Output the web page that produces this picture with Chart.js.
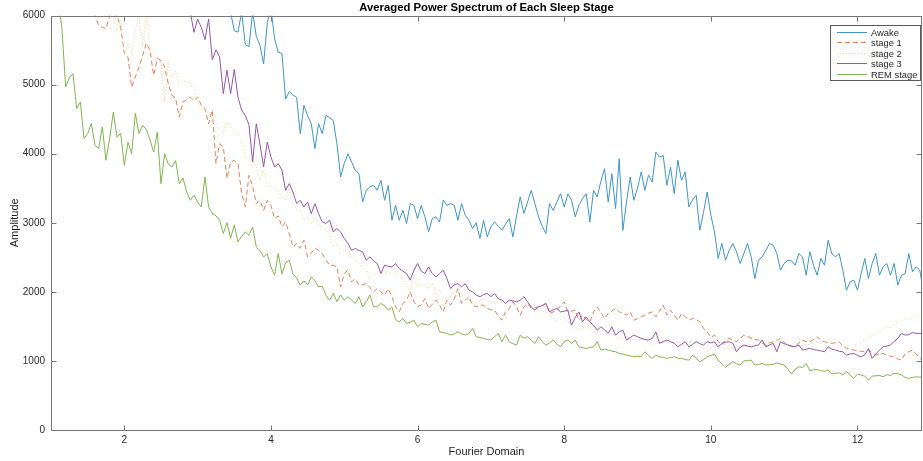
<!DOCTYPE html>
<html><head><meta charset="utf-8">
<script src="https://cdn.jsdelivr.net/npm/chart.js@4.4.0/dist/chart.umd.min.js"></script>
<style>html,body{margin:0;padding:0;background:#fff}</style>
</head><body>
<canvas id="c" width="923" height="461"></canvas>
<script>
const freq = [
 1.00,1.05,1.10,1.15,1.20,1.25,1.30,1.35,1.40,1.45,1.50,1.55,1.60,1.65,1.70,1.75,1.80,1.85,1.90,1.95,
 2.00,2.05,2.10,2.15,2.20,2.25,2.30,2.35,2.40,2.45,2.50,2.55,2.60,2.65,2.70,2.75,2.80,2.85,2.90,2.95,
 3.00,3.05,3.10,3.15,3.20,3.25,3.30,3.35,3.40,3.45,3.50,3.55,3.60,3.65,3.70,3.75,3.80,3.85,3.90,3.95,
 4.00,4.05,4.10,4.15,4.20,4.25,4.30,4.35,4.40,4.45,4.50,4.55,4.60,4.65,4.70,4.75,4.80,4.85,4.90,4.95,
 5.00,5.05,5.10,5.15,5.20,5.25,5.30,5.35,5.40,5.45,5.50,5.55,5.60,5.65,5.70,5.75,5.80,5.85,5.90,5.95,
 6.00,6.05,6.10,6.15,6.20,6.25,6.30,6.35,6.40,6.45,6.50,6.55,6.60,6.65,6.70,6.75,6.80,6.85,6.90,6.95,
 7.00,7.05,7.10,7.15,7.20,7.25,7.30,7.35,7.40,7.45,7.50,7.55,7.60,7.65,7.70,7.75,7.80,7.85,7.90,7.95,
 8.00,8.05,8.10,8.15,8.20,8.25,8.30,8.35,8.40,8.45,8.50,8.55,8.60,8.65,8.70,8.75,8.80,8.85,8.90,8.95,
 9.00,9.05,9.10,9.15,9.20,9.25,9.30,9.35,9.40,9.45,9.50,9.55,9.60,9.65,9.70,9.75,9.80,9.85,9.90,9.95,
 10.00,10.05,10.10,10.15,10.20,10.25,10.30,10.35,10.40,10.45,10.50,10.55,10.60,10.65,10.70,10.75,10.80,10.85,10.90,10.95,
 11.00,11.05,11.10,11.15,11.20,11.25,11.30,11.35,11.40,11.45,11.50,11.55,11.60,11.65,11.70,11.75,11.80,11.85,11.90,11.95,
 12.00,12.05,12.10,12.15,12.20,12.25,12.30,12.35,12.40,12.45,12.50,12.55,12.60,12.65,12.70,12.75,12.80,12.85,12.90,12.95
];
const awake = [
 null,null,null,null,null,null,null,null,null,null,null,null,null,null,null,null,null,null,null,null,
 null,null,null,null,null,null,null,null,null,null,null,null,null,null,null,null,null,null,null,null,
 null,null,null,null,null,null,null,null,6300,6050,5780,5760,6050,5580,5550,6050,5700,5570,5300,5900,
 6100,5660,5470,5450,4790,4900,4850,4815,4290,4700,4550,4435,4073,4435,4290,4555,4520,4480,4145,3663,
 3860,4000,3880,3760,3712,3300,3470,3520,3542,3470,3615,3325,3540,3037,3253,3037,3180,2990,3277,3253,
 3060,3253,3085,2868,3060,3085,3013,3326,3253,3277,3253,3037,3277,3110,3037,2916,3000,2772,3037,2796,
 2940,3013,2950,2892,2980,3060,2796,3100,3374,3133,3300,3470,3277,3085,2950,2844,3277,3180,3300,3420,
 3230,3420,3325,3085,3253,3350,3420,3013,3470,3374,3600,3784,3300,3712,3205,3928,2892,3300,3663,3325,
 3500,3735,3470,3690,3590,4024,3950,3975,3543,3807,3420,3904,3615,3735,3229,3330,3400,2892,3150,3446,
 3110,2868,2483,2700,2458,2600,2700,2580,2410,2555,2700,2506,2193,2458,2506,2600,2700,2675,2555,2313,
 2410,2458,2450,2386,2555,2506,2241,2580,2386,2241,2483,2386,2747,2550,2506,2555,2313,2024,2145,2169,
 2024,2265,2483,2193,2410,2555,2241,2362,2410,2241,2410,2097,2241,2265,2555,2290,2362,2313,2000,2100
];
const stage1 = [
 null,null,null,null,null,null,null,null,null,null,null,6150,6000,5856,5830,5810,5990,6050,6000,5830,
 5450,5400,4965,5110,5254,5424,5600,5500,5134,5380,5350,5254,5013,4845,4800,4530,4750,4780,4820,4770,
 4820,4700,4650,4434,4630,3856,4145,4100,3640,3880,3905,3856,3423,3230,3687,3530,3277,3325,3180,3325,
 3253,3060,3100,2940,3010,2844,2650,2700,2630,2747,2506,2560,2630,2600,2550,2460,2386,2386,2360,2072,
 2265,2313,2145,2190,2097,2100,2120,2060,2000,2047,2000,1952,2047,1930,1783,1710,1832,1880,2000,1856,
 1783,1808,1905,1760,1820,1880,1808,1710,1880,1808,1900,2048,1832,1880,1930,1808,1783,1808,1808,1760,
 1740,1735,1650,1590,1710,1760,1856,1783,1662,1783,1832,1760,1770,1783,1800,1832,1686,1710,1735,1800,
 1856,1710,1720,1735,1590,1663,1600,1566,1710,1783,1700,1614,1686,1720,1760,1710,1690,1663,1710,1590,
 1610,1638,1663,1690,1710,1638,1720,1808,1663,1735,1660,1590,1686,1640,1590,1614,1600,1566,1470,1422,
 1340,1374,1280,1230,1302,1330,1300,1278,1320,1374,1360,1326,1310,1302,1260,1230,1260,1278,1300,1326,
 1270,1230,1210,1205,1260,1302,1280,1278,1310,1350,1300,1278,1260,1254,1265,1278,1220,1181,1170,1157,
 1150,1140,1133,1157,1120,1085,1100,1109,1080,1070,1060,1030,1012,1100,1133,1157,1100,1036,1000,980
];
const stage2 = [
 null,null,null,null,null,null,null,null,null,null,null,null,null,null,null,null,null,6100,5783,5930,
 5424,5596,5424,5800,6000,5550,6000,5550,5450,5400,5300,4750,5340,5100,5200,5000,5040,5060,5010,4940,
 4730,4690,4640,4580,4508,4400,4340,4290,4460,4380,4315,4290,4193,3952,3930,3900,3807,3620,3760,3518,
 3530,3540,3420,3400,3325,3518,3277,3200,3181,3037,3085,2989,3085,2965,2940,2900,2844,2650,2700,2555,
 2603,2627,2507,2458,2400,2362,2313,2193,2241,2280,2313,2241,2270,2290,2241,2265,2169,2100,2000,2241,
 2072,2120,2080,2048,2120,1952,2024,1930,1856,1952,1980,2000,1977,1952,1880,1860,1832,1860,1905,1880,
 1856,1840,1832,1860,1880,1930,1910,1905,1820,1800,1790,1808,1770,1735,1720,1700,1686,1620,1566,1600,
 1638,1560,1518,1480,1446,1480,1518,1470,1422,1410,1390,1374,1385,1398,1360,1326,1340,1350,1330,1310,
 1302,1315,1326,1270,1229,1260,1302,1280,1260,1254,1265,1278,1250,1229,1260,1302,1250,1205,1181,1133,
 1180,1229,1205,1190,1181,1200,1175,1205,1230,1210,1230,1205,1181,1190,1200,1205,1190,1240,1230,1245,
 1254,1240,1230,1205,1200,1225,1230,1240,1280,1278,1270,1302,1300,1270,1254,1230,1215,1205,1230,1210,
 1260,1280,1302,1340,1370,1398,1420,1470,1490,1480,1530,1550,1590,1614,1600,1610,1638,1650,1663,1670
];
const stage3 = [
 null,null,null,null,null,null,null,null,null,null,null,null,null,null,null,null,null,null,null,null,
 null,null,null,null,null,null,null,null,null,null,null,null,null,null,null,null,null,6400,6050,5757,
 5950,5830,5650,5950,5360,5505,5400,4870,5210,4870,5220,4820,4630,4555,4420,3880,4434,4140,3810,4169,
 3950,3808,3856,3760,3470,3567,3446,3278,3325,3230,3300,3133,3277,3133,3013,2990,3037,2868,2916,2868,
 2772,2700,2603,2627,2600,2580,2458,2506,2450,2410,2265,2386,2370,2362,2410,2338,2300,2265,2169,2313,
 2410,2300,2265,2362,2265,2217,2265,2313,2193,2048,2100,2120,2072,2120,2024,2000,1952,1930,1960,1977,
 1930,1977,1900,1880,1832,1880,1870,1856,1880,1930,1856,1780,1735,1783,1800,1832,1710,1740,1760,1710,
 1720,1735,1518,1630,1710,1566,1638,1560,1518,1446,1494,1450,1398,1494,1374,1420,1446,1302,1340,1374,
 1350,1326,1310,1302,1326,1422,1254,1280,1302,1280,1254,1205,1240,1278,1205,1240,1278,1250,1229,1280,
 1260,1278,1200,1254,1270,1278,1254,1133,1200,1230,1215,1205,1220,1230,1302,1205,1230,1254,1133,1278,
 1250,1230,1215,1205,1230,1157,1170,1181,1165,1157,1145,1133,1205,1170,1157,1140,1133,1085,1100,1109,
 1080,1060,1090,1181,1036,1100,1157,1205,1215,1230,1280,1326,1398,1374,1380,1410,1400,1398,1400,1405
];
const remStage = [
 6800,6550,6250,5800,4965,5100,5160,4650,4750,4222,4290,4440,4120,4078,4386,3904,4222,4603,4241,4294,
 3832,4169,4000,4584,4294,4410,4350,4200,4024,4313,3567,4000,3850,3807,3900,3567,3650,3446,3326,3400,
 3300,3229,3663,3229,3137,3100,3037,2844,3000,2776,2970,2723,2800,2868,2820,2940,2650,2600,2506,2550,
 2361,2241,2555,2260,2420,2458,2260,2200,2097,2160,2097,2217,2160,2072,2080,1950,1880,1977,1860,1955,
 1880,1930,1880,1832,1930,1783,1860,1955,1783,1783,1832,1800,1735,1783,1600,1566,1614,1543,1560,1590,
 1494,1543,1530,1518,1566,1590,1422,1410,1398,1374,1390,1422,1390,1374,1398,1470,1350,1340,1325,1310,
 1302,1350,1398,1278,1374,1278,1250,1229,1374,1330,1350,1300,1254,1350,1280,1229,1260,1302,1240,1205,
 1280,1302,1254,1302,1205,1190,1181,1195,1205,1278,1157,1170,1157,1140,1133,1109,1100,1085,1070,1060,
 1070,1060,1133,1080,1036,1085,1060,1050,1036,1050,1060,1040,1036,1020,1012,1085,1040,988,1020,1060,
 1080,1099,1012,960,907,950,988,960,940,1000,1005,1012,940,950,964,940,945,950,970,955,
 940,880,810,880,915,907,964,860,870,875,860,850,868,810,820,828,800,850,790,750,
 810,795,780,723,780,785,790,770,800,790,820,815,800,760,747,760,770,765,770,760
];
const seriesNames = ['Awake','stage 1','stage 2','stage 3','REM stage'];
const xTicks = [2,4,6,8,10,12];
const yTicks = [0,1000,2000,3000,4000,5000,6000];

const FONT = "'Liberation Sans', Arial, Helvetica, sans-serif";
Chart.defaults.font.family = FONT;

const seriesValues = [awake, stage1, stage2, stage3, remStage];
const colors = ['rgb(62,150,200)','rgb(226,128,88)','rgb(238,214,160)','rgb(150,86,170)','rgb(128,182,78)'];
const dashes = [[], [5,3], [1.2,1.8], [], []];

const datasets = seriesValues.map((vals, i) => ({
  label: seriesNames[i],
  data: vals.map((v, j) => ({x: freq[j], y: v})),
  borderColor: colors[i],
  borderWidth: 1,
  borderDash: dashes[i],
  pointRadius: 0,
  tension: 0,
  fill: false,
  spanGaps: false,
  order: 4 - i
}));

const framePlugin = {
  id: 'frame',
  afterDatasetsDraw(chart) {
    const {ctx, chartArea: a, scales} = chart;
    ctx.save();
    ctx.strokeStyle = 'rgb(120,120,120)';
    ctx.lineWidth = 1;
    ctx.setLineDash([]);
    const L = Math.round(a.left) + 0.5, R = Math.round(a.right) - 0.5;
    const T = Math.round(a.top) + 0.5, B = Math.round(a.bottom) + 0.5;
    ctx.strokeRect(L, T, R - L, B - T);
    ctx.beginPath();
    const tl = 5;
    xTicks.forEach(v => {
      const px = Math.round(scales.x.getPixelForValue(v)) + 0.5;
      ctx.moveTo(px, B); ctx.lineTo(px, B - tl);
      ctx.moveTo(px, T); ctx.lineTo(px, T + tl);
    });
    yTicks.forEach(v => {
      const py = Math.round(scales.y.getPixelForValue(v)) + 0.5;
      ctx.moveTo(L, py); ctx.lineTo(L + tl, py);
      ctx.moveTo(R, py); ctx.lineTo(R - tl, py);
    });
    ctx.stroke();

    // legend box inside top-right
    const bx = 830.5, by = 25.5, bw = 90, bh = 55;
    ctx.fillStyle = '#fff';
    ctx.fillRect(bx, by, bw, bh);
    ctx.strokeStyle = 'rgb(90,90,90)';
    ctx.strokeRect(bx, by, bw, bh);
    ctx.font = '9.4px ' + FONT;
    ctx.textBaseline = 'middle';
    ctx.textAlign = 'left';
    chart.data.datasets.forEach((ds, i) => {
      const y = Math.round(32 + i * 10.4) + 0.5;
      ctx.strokeStyle = ds.borderColor;
      ctx.setLineDash(ds.borderDash);
      ctx.beginPath();
      ctx.moveTo(837, y); ctx.lineTo(867, y);
      ctx.stroke();
      ctx.fillStyle = 'rgb(40,40,40)';
      ctx.fillText(ds.label, 871, y + 0.5);
    });
    ctx.restore();
  }
};

new Chart(document.getElementById('c'), {
  type: 'line',
  data: { datasets },
  options: {
    responsive: false,
    animation: false,
    devicePixelRatio: 1,
    layout: { padding: { left: 0, right: 1, top: 0, bottom: 0 } },
    plugins: {
      legend: { display: false },
      tooltip: { enabled: false },
      title: {
        display: true,
        fullSize: false,
        text: 'Averaged Power Spectrum of Each Sleep Stage',
        color: '#000',
        font: { size: 11.3, weight: 'bold', family: FONT },
        padding: { top: 1, bottom: 1 }
      }
    },
    scales: {
      x: {
        type: 'linear',
        min: 1, max: 12.88,
        afterBuildTicks: s => { s.ticks = xTicks.map(v => ({value: v})); },
        afterFit: s => { s.height = 31; },
        grid: { display: false, drawTicks: false },
        border: { display: false },
        ticks: { color: 'rgb(40,40,40)', font: { size: 10 }, padding: 4, maxRotation: 0,
                 callback: v => String(v) },
        title: { display: true, text: 'Fourier Domain', color: 'rgb(30,30,30)',
                 font: { size: 11 }, padding: { top: 0, bottom: 2 } }
      },
      y: {
        type: 'linear',
        min: 0, max: 6000,
        afterBuildTicks: s => { s.ticks = yTicks.map(v => ({value: v})); },
        afterFit: s => { s.width = 51; },
        grid: { display: false, drawTicks: false },
        border: { display: false },
        ticks: { color: 'rgb(40,40,40)', font: { size: 10 }, padding: 6,
                 callback: v => String(v) },
        title: { display: true, text: 'Amplitude', color: 'rgb(30,30,30)',
                 font: { size: 11 }, padding: { top: 8, bottom: 0 } }
      }
    }
  },
  plugins: [framePlugin]
});
</script>
</body></html>
